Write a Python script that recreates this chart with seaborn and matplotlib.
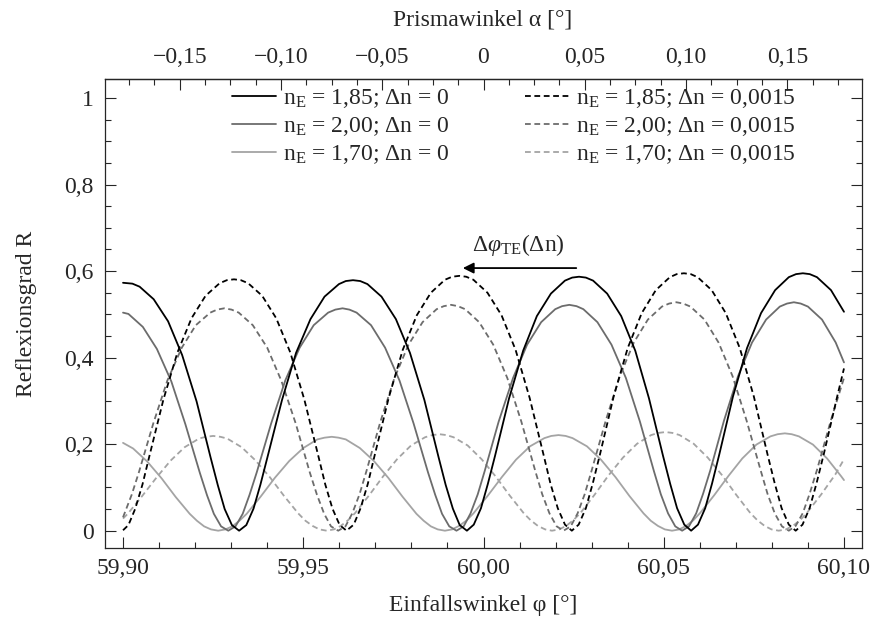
import matplotlib
matplotlib.use('Agg')
import matplotlib.pyplot as plt
from matplotlib.ticker import MultipleLocator, FixedLocator, FuncFormatter
import seaborn as sns

# Einfallswinkel phi [deg] und Reflexionsgrad R, abgelesen aus dem Bild
# n_E = 1,85 ; dn = 0
phi_185_0 = [59.9000, 59.9026, 59.9046, 59.9085, 59.9125, 59.9164, 59.9204, 59.9243, 59.9263, 59.9282, 59.9302,
             59.9322, 59.9342, 59.9362, 59.9381, 59.9401, 59.9441, 59.9480, 59.9520, 59.9559, 59.9599, 59.9618,
             59.9638, 59.9658, 59.9678, 59.9717, 59.9757, 59.9796, 59.9836, 59.9875, 59.9895, 59.9915, 59.9934,
             59.9954, 59.9973, 59.9993, 60.0012, 60.0032, 60.0071, 60.0110, 60.0148, 60.0187, 60.0226, 60.0246,
             60.0265, 60.0284, 60.0304, 60.0343, 60.0382, 60.0421, 60.0459, 60.0498, 60.0518, 60.0537, 60.0557,
             60.0576, 60.0595, 60.0615, 60.0634, 60.0654, 60.0692, 60.0731, 60.0770, 60.0809, 60.0847, 60.0867,
             60.0886, 60.0905, 60.0925, 60.0964, 60.1000]
R_185_0 = [0.573, 0.571, 0.564, 0.535, 0.484, 0.406, 0.299, 0.169, 0.105, 0.050, 0.013,
           0.000, 0.013, 0.051, 0.106, 0.171, 0.302, 0.411, 0.489, 0.541, 0.570, 0.577,
           0.579, 0.577, 0.570, 0.541, 0.489, 0.411, 0.302, 0.171, 0.106, 0.051, 0.013,
           0.000, 0.014, 0.052, 0.108, 0.173, 0.306, 0.416, 0.496, 0.548, 0.578, 0.585,
           0.587, 0.585, 0.578, 0.548, 0.496, 0.416, 0.306, 0.173, 0.108, 0.052, 0.014,
           0.000, 0.014, 0.052, 0.109, 0.176, 0.310, 0.422, 0.503, 0.556, 0.586, 0.593,
           0.595, 0.593, 0.586, 0.556, 0.506]

# n_E = 1,85 ; dn = 0,0015
phi_185_d = [59.9000, 59.9015, 59.9034, 59.9054, 59.9073, 59.9112, 59.9151, 59.9190, 59.9229, 59.9268, 59.9288,
             59.9308, 59.9327, 59.9347, 59.9386, 59.9425, 59.9464, 59.9503, 59.9542, 59.9561, 59.9581, 59.9601,
             59.9620, 59.9640, 59.9659, 59.9679, 59.9698, 59.9737, 59.9776, 59.9815, 59.9854, 59.9893, 59.9913,
             59.9933, 59.9952, 59.9972, 60.0011, 60.0050, 60.0089, 60.0128, 60.0167, 60.0186, 60.0206, 60.0226,
             60.0245, 60.0264, 60.0284, 60.0303, 60.0323, 60.0361, 60.0400, 60.0439, 60.0478, 60.0517, 60.0536,
             60.0556, 60.0575, 60.0594, 60.0633, 60.0672, 60.0711, 60.0750, 60.0788, 60.0808, 60.0827, 60.0847,
             60.0866, 60.0885, 60.0905, 60.0924, 60.0944, 60.0982, 60.1000]
R_185_d = [0.001, 0.013, 0.051, 0.107, 0.172, 0.303, 0.412, 0.491, 0.543, 0.572, 0.579,
           0.581, 0.579, 0.572, 0.543, 0.491, 0.412, 0.303, 0.172, 0.107, 0.051, 0.013,
           0.000, 0.014, 0.052, 0.108, 0.174, 0.307, 0.418, 0.498, 0.550, 0.580, 0.587,
           0.589, 0.587, 0.580, 0.550, 0.498, 0.418, 0.307, 0.174, 0.108, 0.052, 0.014,
           0.000, 0.014, 0.052, 0.109, 0.176, 0.310, 0.422, 0.503, 0.556, 0.586, 0.593,
           0.595, 0.593, 0.586, 0.556, 0.503, 0.422, 0.310, 0.176, 0.109, 0.052, 0.014,
           0.000, 0.014, 0.053, 0.110, 0.177, 0.313, 0.375]

# n_E = 2,00 ; dn = 0
phi_200_0 = [59.9000, 59.9015, 59.9055, 59.9094, 59.9134, 59.9173, 59.9213, 59.9233, 59.9252, 59.9272,
             59.9292, 59.9312, 59.9332, 59.9351, 59.9371, 59.9411, 59.9450, 59.9490, 59.9529, 59.9569, 59.9589,
             59.9609, 59.9628, 59.9648, 59.9688, 59.9727, 59.9767, 59.9806, 59.9846, 59.9866, 59.9885, 59.9905,
             59.9925, 59.9945, 59.9964, 59.9984, 60.0003, 60.0042, 60.0082, 60.0121, 60.0160, 60.0199, 60.0218,
             60.0238, 60.0258, 60.0277, 60.0316, 60.0355, 60.0395, 60.0434, 60.0473, 60.0492, 60.0512, 60.0532,
             60.0551, 60.0570, 60.0590, 60.0609, 60.0629, 60.0667, 60.0706, 60.0745, 60.0784, 60.0822, 60.0842,
             60.0861, 60.0880, 60.0900, 60.0939, 60.0977, 60.1000]
R_200_0 = [0.504, 0.501, 0.471, 0.420, 0.345, 0.246, 0.134, 0.082, 0.039, 0.010,
           0.000, 0.010, 0.039, 0.083, 0.135, 0.248, 0.347, 0.423, 0.475, 0.504, 0.511,
           0.514, 0.511, 0.504, 0.475, 0.423, 0.347, 0.248, 0.135, 0.083, 0.039, 0.010,
           0.000, 0.010, 0.040, 0.084, 0.137, 0.252, 0.353, 0.430, 0.482, 0.512, 0.519,
           0.522, 0.519, 0.512, 0.482, 0.430, 0.353, 0.252, 0.137, 0.084, 0.040, 0.010,
           0.000, 0.010, 0.040, 0.085, 0.139, 0.254, 0.357, 0.435, 0.488, 0.518, 0.525,
           0.528, 0.525, 0.518, 0.488, 0.435, 0.389]

# n_E = 2,00 ; dn = 0,0015
phi_200_d = [59.9000, 59.9024, 59.9044, 59.9084, 59.9123, 59.9163, 59.9202, 59.9242, 59.9261, 59.9281,
             59.9301, 59.9321, 59.9360, 59.9400, 59.9439, 59.9479, 59.9518, 59.9538, 59.9558, 59.9577,
             59.9597, 59.9617, 59.9636, 59.9656, 59.9675, 59.9714, 59.9753, 59.9792, 59.9831, 59.9870, 59.9890,
             59.9910, 59.9929, 59.9949, 59.9988, 60.0027, 60.0066, 60.0105, 60.0144, 60.0163, 60.0183, 60.0203,
             60.0222, 60.0242, 60.0261, 60.0281, 60.0300, 60.0339, 60.0378, 60.0417, 60.0456, 60.0495, 60.0515,
             60.0535, 60.0554, 60.0574, 60.0613, 60.0652, 60.0691, 60.0730, 60.0769, 60.0788, 60.0808, 60.0828,
             60.0847, 60.0866, 60.0886, 60.0905, 60.0925, 60.0964, 60.1000]
R_200_d = [0.031, 0.083, 0.135, 0.248, 0.347, 0.423, 0.475, 0.504, 0.511, 0.514,
           0.511, 0.504, 0.475, 0.423, 0.347, 0.248, 0.135, 0.083, 0.039, 0.010,
           0.000, 0.010, 0.040, 0.084, 0.137, 0.252, 0.353, 0.430, 0.482, 0.512, 0.519,
           0.522, 0.519, 0.512, 0.482, 0.430, 0.353, 0.252, 0.137, 0.084, 0.040, 0.010,
           0.000, 0.010, 0.040, 0.085, 0.139, 0.254, 0.357, 0.435, 0.488, 0.518, 0.525,
           0.528, 0.525, 0.518, 0.488, 0.435, 0.357, 0.254, 0.139, 0.085, 0.040, 0.010,
           0.000, 0.011, 0.041, 0.086, 0.140, 0.256, 0.353]

# n_E = 1,70 ; dn = 0
phi_170_0 = [59.9000, 59.9028, 59.9067, 59.9107, 59.9146, 59.9185, 59.9205, 59.9225, 59.9244,
             59.9264, 59.9284, 59.9303, 59.9323, 59.9343, 59.9382, 59.9421, 59.9461, 59.9500, 59.9539, 59.9559,
             59.9579, 59.9598, 59.9618, 59.9657, 59.9696, 59.9736, 59.9775, 59.9814, 59.9834, 59.9854, 59.9873,
             59.9893, 59.9913, 59.9932, 59.9952, 59.9972, 60.0011, 60.0051, 60.0090, 60.0129, 60.0169, 60.0188,
             60.0208, 60.0228, 60.0247, 60.0287, 60.0326, 60.0366, 60.0405, 60.0444, 60.0464, 60.0484, 60.0503,
             60.0523, 60.0543, 60.0562, 60.0582, 60.0601, 60.0640, 60.0679, 60.0718, 60.0757, 60.0796, 60.0816,
             60.0836, 60.0855, 60.0875, 60.0914, 60.0953, 60.0992, 60.1000]
R_170_0 = [0.203, 0.190, 0.160, 0.121, 0.078, 0.039, 0.023, 0.010, 0.003,
           0.000, 0.003, 0.010, 0.023, 0.039, 0.079, 0.122, 0.161, 0.191, 0.211, 0.215,
           0.217, 0.215, 0.211, 0.191, 0.161, 0.122, 0.079, 0.039, 0.023, 0.010, 0.003,
           0.000, 0.003, 0.011, 0.023, 0.040, 0.080, 0.124, 0.164, 0.195, 0.214, 0.219,
           0.221, 0.219, 0.214, 0.195, 0.164, 0.124, 0.080, 0.040, 0.023, 0.011, 0.003,
           0.000, 0.003, 0.011, 0.024, 0.041, 0.082, 0.126, 0.167, 0.199, 0.218, 0.223,
           0.225, 0.223, 0.218, 0.199, 0.167, 0.126, 0.117]

# n_E = 1,70 ; dn = 0,0015
phi_170_d = [59.9000, 59.9014, 59.9053, 59.9093, 59.9132, 59.9171, 59.9211, 59.9230, 59.9250, 59.9270,
             59.9289, 59.9329, 59.9368, 59.9408, 59.9447, 59.9486, 59.9506, 59.9526, 59.9545,
             59.9565, 59.9585, 59.9604, 59.9624, 59.9643, 59.9682, 59.9721, 59.9760, 59.9799, 59.9838, 59.9858,
             59.9878, 59.9897, 59.9917, 59.9956, 59.9995, 60.0034, 60.0073, 60.0112, 60.0131, 60.0151, 60.0171,
             60.0190, 60.0210, 60.0229, 60.0249, 60.0269, 60.0308, 60.0347, 60.0387, 60.0426, 60.0465, 60.0485,
             60.0505, 60.0524, 60.0544, 60.0583, 60.0622, 60.0662, 60.0701, 60.0740, 60.0760, 60.0780, 60.0799,
             60.0819, 60.0839, 60.0858, 60.0878, 60.0898, 60.0937, 60.0976, 60.1000]
R_170_d = [0.028, 0.040, 0.080, 0.123, 0.162, 0.193, 0.213, 0.217, 0.219, 0.217,
           0.213, 0.193, 0.162, 0.123, 0.080, 0.040, 0.023, 0.011, 0.003,
           0.000, 0.003, 0.011, 0.024, 0.040, 0.081, 0.125, 0.165, 0.197, 0.216, 0.221,
           0.223, 0.221, 0.216, 0.197, 0.165, 0.125, 0.081, 0.040, 0.024, 0.011, 0.003,
           0.000, 0.003, 0.011, 0.024, 0.041, 0.083, 0.128, 0.169, 0.201, 0.221, 0.226,
           0.228, 0.226, 0.221, 0.201, 0.169, 0.128, 0.083, 0.041, 0.024, 0.011, 0.003,
           0.000, 0.003, 0.011, 0.024, 0.042, 0.084, 0.130, 0.165]

labels = ['n$_{\\rm E}$ = 1,85; Δn = 0', 'n$_{\\rm E}$ = 2,00; Δn = 0', 'n$_{\\rm E}$ = 1,70; Δn = 0',
          'n$_{\\rm E}$ = 1,85; Δn = 0,0015', 'n$_{\\rm E}$ = 2,00; Δn = 0,0015',
          'n$_{\\rm E}$ = 1,70; Δn = 0,0015']

# Prismawinkel alpha ~ n_Prisma * (phi - 60 deg)
alpha_scale = 1.78
alpha_ticks = [-0.15, -0.10, -0.05, 0.0, 0.05, 0.10, 0.15]
alpha_minor = [i * 0.0125 for i in range(-15, 16)]

sns.set_style('ticks')
plt.rcParams['font.family'] = ['Liberation Serif', 'DejaVu Serif']
plt.rcParams['mathtext.fontset'] = 'custom'
plt.rcParams['mathtext.rm'] = 'Liberation Serif'
plt.rcParams['mathtext.it'] = 'Liberation Serif:italic'

fig = plt.figure(figsize=(8.77, 6.23), dpi=100)
ax = fig.add_axes([105/877, 1-548/623, 757/877, 469/623])

dash = (0, (3.2, 2.0))
col_b, col_d, col_l = 'black', '#6c6c6c', '#a4a4a4'
curves = [
    (phi_170_0, R_170_0, col_l, '-', labels[2]),
    (phi_170_d, R_170_d, col_l, dash, labels[5]),
    (phi_200_0, R_200_0, col_d, '-', labels[1]),
    (phi_200_d, R_200_d, col_d, dash, labels[4]),
    (phi_185_0, R_185_0, col_b, '-', labels[0]),
    (phi_185_d, R_185_d, col_b, dash, labels[3]),
]
handles = {}
for phi, R, col, ls, lab in curves:
    sns.lineplot(x=phi, y=R, ax=ax, color=col, linestyle=ls, linewidth=1.3,
                 estimator=None, sort=False)
    handles[lab] = ax.lines[-1]

ax.set_xlim(59.895, 60.105)
ax.set_ylim(-0.04, 1.044)

def fmt_y(v, pos):
    if abs(v) < 1e-9:
        return '0'
    if abs(v - 1) < 1e-9:
        return '1'
    return f'{v:.1f}'.replace('.', ',')

def fmt_x(v, pos):
    return f'{v:.2f}'.replace('.', ',')

def fmt_top(v, pos):
    if abs(v) < 1e-9:
        return '0'
    s = f'{abs(v):.2f}'.replace('.', ',')
    return ('\u2212' if v < 0 else '') + s

ax.xaxis.set_major_locator(MultipleLocator(0.05))
ax.xaxis.set_minor_locator(MultipleLocator(0.01))
ax.yaxis.set_major_locator(MultipleLocator(0.2))
ax.yaxis.set_minor_locator(MultipleLocator(0.05))
ax.xaxis.set_major_formatter(FuncFormatter(fmt_x))
ax.yaxis.set_major_formatter(FuncFormatter(fmt_y))
ax.tick_params(which='both', direction='in', top=False, right=True, labelsize=17)
ax.tick_params(axis='x', pad=7)
ax.tick_params(axis='y', pad=8)
ax.tick_params(which='major', length=8, width=0.8)
ax.tick_params(which='minor', length=4.5, width=0.8)
for s in ax.spines.values():
    s.set_linewidth(0.9)

secax = ax.secondary_xaxis('top', functions=(lambda p: alpha_scale*(p - 60.0),
                                             lambda a: 60.0 + a/alpha_scale))
secax.xaxis.set_major_locator(FixedLocator(alpha_ticks))
secax.xaxis.set_minor_locator(FixedLocator(alpha_minor))
secax.xaxis.set_major_formatter(FuncFormatter(fmt_top))
secax.tick_params(which='both', direction='in', labelsize=17, pad=8)
secax.tick_params(which='major', length=8, width=0.8)
secax.tick_params(which='minor', length=4.5, width=0.8)
secax.spines['top'].set_linewidth(0.9)

ax.set_xlabel('Einfallswinkel φ [°]', fontsize=17)
ax.xaxis.label.set_va('center')
ax.xaxis.set_label_coords(0.5, (548-606)/469)
ax.set_ylabel('Reflexionsgrad R', fontsize=17)
ax.yaxis.label.set_va('center')
ax.yaxis.set_label_coords((27-105)/757, 0.5)
fig.text(483/877, 1-20/623, 'Prismawinkel α [°]', ha='center', va='center', fontsize=17)

ax.legend([handles[l] for l in labels], labels, ncol=2, loc='upper left',
          bbox_to_anchor=((232-105)/757, (548-87)/469), frameon=False, fontsize=17,
          borderpad=0, borderaxespad=0, handlelength=1.85, columnspacing=3.2,
          labelspacing=0.22, handletextpad=0.3)

ax.annotate('', xy=(59.9935, 0.607), xytext=(60.0265, 0.607),
            arrowprops=dict(arrowstyle='-|>', color='black', lw=1.3, mutation_scale=16))
ax.text(60.0096, 0.66, r'$\Delta\varphi_\mathrm{TE}(\Delta\mathrm{n})$', ha='center', va='center', fontsize=17)

fig.savefig('out.png', dpi=100)
